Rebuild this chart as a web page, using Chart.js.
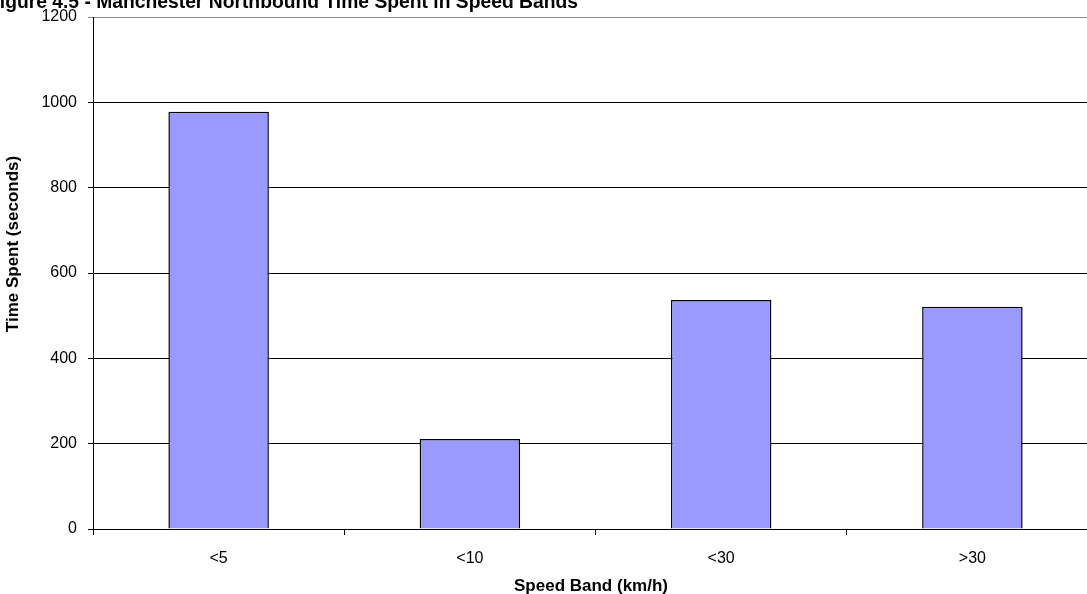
<!DOCTYPE html>
<html>
<head>
<meta charset="utf-8">
<script src="https://cdn.jsdelivr.net/npm/chart.js@4/dist/chart.umd.min.js"></script>
<style>
  html, body { margin: 0; padding: 0; background: #fff; overflow: hidden; }
  #wrap { position: relative; width: 1100px; height: 594px; }
</style>
</head>
<body>
<div id="wrap"><canvas id="myChart" width="1100" height="594"></canvas></div>
<script>
//------Data------
const speedBands = ['<5', '<10', '<30', '>30'];
const timeSpent = [978, 211, 537, 521];
const yTicks = [0, 200, 400, 600, 800, 1000, 1200];

const chartTitle = 'Figure 4.5 - Manchester Northbound Time Spent in Speed Bands';
const yTitle = 'Time Spent (seconds)';
const xTitle = 'Speed Band (km/h)';
//----------------

const FONT = 'Arial, "Liberation Sans", sans-serif';

//--titles drawn by hand (the main title is clipped at the top left in the original)
const titlesPlugin = {
  id: 'titles',
  afterDraw(chart) {
    const ctx = chart.ctx;
    ctx.save();
    ctx.fillStyle = '#000';
    ctx.textBaseline = 'alphabetic';
    ctx.textAlign = 'left';
    ctx.font = 'bold 19.3px ' + FONT;
    ctx.fillText(chartTitle, -12, 8);

    ctx.font = 'bold 17px ' + FONT;
    ctx.textAlign = 'center';
    ctx.textBaseline = 'middle';
    ctx.fillText(xTitle, 591, 586);

    ctx.translate(13, 244);
    ctx.rotate(-Math.PI / 2);
    ctx.fillText(yTitle, 0, 0);
    ctx.restore();
  }
};

const ctxx = document.getElementById('myChart').getContext('2d');

new Chart(ctxx, {
  type: 'bar',
  data: {
    labels: speedBands,
    datasets: [{
      data: timeSpent,
      backgroundColor: '#9999ff',
      borderColor: '#000',
      borderWidth: 1.5,
      barPercentage: 0.4,
      categoryPercentage: 1
    }]
  },
  options: {
    responsive: false,
    animation: false,
    layout: { padding: { top: 17, right: 2, left: 0, bottom: 0 } },
    plugins: {
      legend: { display: false },
      tooltip: { enabled: false },
      title: { display: false }
    },
    scales: {
      x: {
        offset: true,
        afterFit: (axis) => {
          axis.height = 65;
          axis.paddingLeft = 0;
          axis.paddingRight = 0;
        },
        grid: {
          offset: true,
          drawOnChartArea: false,
          drawTicks: true,
          tickLength: 6,
          color: '#000'
        },
        border: { display: true, color: '#000' },
        ticks: {
          color: '#000',
          padding: 14,
          maxRotation: 0,
          font: { family: FONT, size: 16 }
        }
      },
      y: {
        min: 0,
        max: 1200,
        afterFit: (axis) => {
          axis.width = 93;
          axis.paddingTop = 0;
          axis.paddingBottom = 0;
        },
        afterBuildTicks: (axis) => { axis.ticks = yTicks.map(v => ({ value: v })); },
        grid: {
          color: (c) => (c.tick && c.tick.value === 1200 ? '#888' : '#000'),
          tickLength: 5
        },
        border: { display: true, color: '#000' },
        ticks: {
          color: '#000',
          padding: 11,
          font: { family: FONT, size: 16 },
          callback: (v) => String(v)
        }
      }
    }
  },
  plugins: [titlesPlugin]
});
</script>
</body>
</html>
